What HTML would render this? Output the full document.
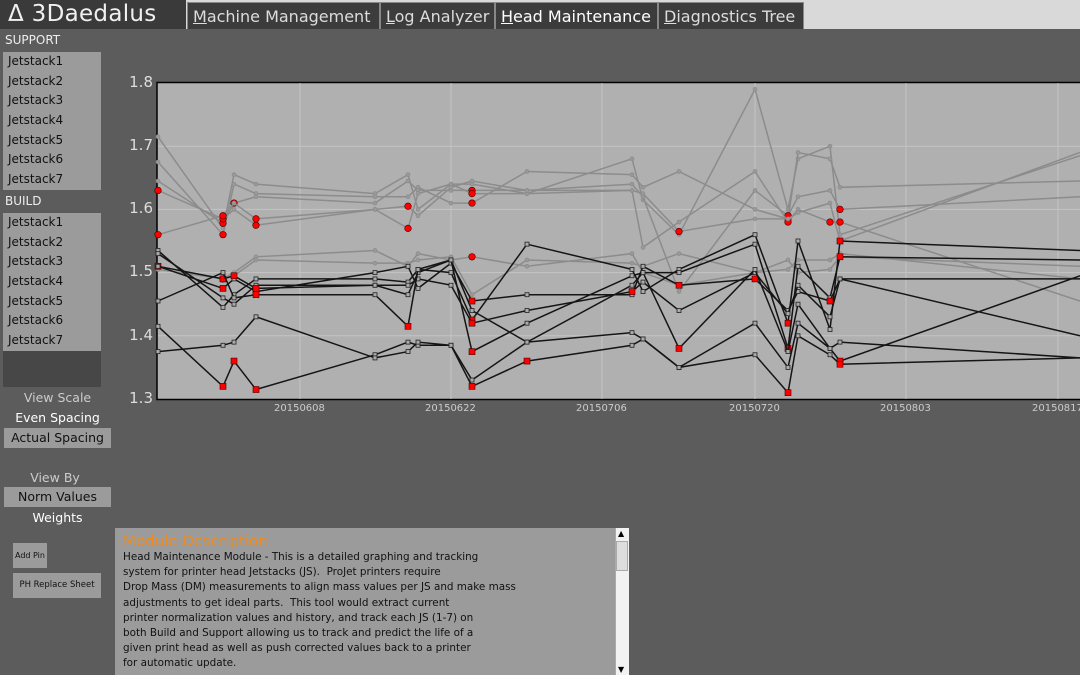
<!DOCTYPE html>
<html><head><meta charset="utf-8"><style>
*{margin:0;padding:0;box-sizing:border-box}
body{width:1080px;height:675px;overflow:hidden;background:#5c5c5c;font-family:"DejaVu Sans","Liberation Sans",sans-serif;position:relative;color:#fff}
.top{position:absolute;left:0;top:0;width:1080px;height:29px;background:#d9d9d9}
.logo{position:absolute;left:0;top:0;width:186px;height:29px;background:#3a3a3a;color:#f0f0f0;font-size:23px;line-height:29px;padding-left:8px;letter-spacing:0.3px}
.tab{position:absolute;top:2px;height:27px;background:#3c3c3c;color:#ddd;font-size:16px;line-height:27px;padding-left:5px;border:1px solid #888;border-bottom:none;white-space:nowrap;overflow:hidden}
.abs{position:absolute;white-space:nowrap}
.hdr{font-size:12px;color:#eee}
.list{background:#9b9b9b;color:#111;font-size:12px}
.list div{height:19.7px;line-height:19.7px;padding-left:5px}
.lbl{font-size:12.5px;text-align:center;width:115px}
.btn{background:#9b9b9b;color:#111;font-size:12.5px;text-align:center}
.desc{left:115px;top:528px;width:500px;height:147px;background:#9b9b9b;color:#111;font-size:10.4px;line-height:15.2px;padding:4px 8px}
.desc h3{color:#f08a1c;font-weight:normal;font-size:15px;line-height:18px}
.tick{position:absolute;font-size:10px;color:#ccc}
.yt{position:absolute;font-size:15px;color:#ddd;width:40px;text-align:right}
</style></head><body>
<svg class="abs" id="ch" style="left:0;top:0" width="1080" height="675"></svg>
<div class="top"></div>
<div class="logo">Δ 3Daedalus</div>
<div class="tab" style="left:187px;width:193px"><u>M</u>achine Management</div>
<div class="tab" style="left:380px;width:115px"><u>L</u>og Analyzer</div>
<div class="tab" style="left:495px;width:163px;color:#fff"><u>H</u>ead Maintenance</div>
<div class="tab" style="left:658px;width:146px"><u>D</u>iagnostics Tree</div>

<div class="abs hdr" style="left:5px;top:33px">SUPPORT</div>
<div class="abs list" style="left:3px;top:52px;width:98px;height:138px">
<div>Jetstack1</div><div>Jetstack2</div><div>Jetstack3</div><div>Jetstack4</div><div>Jetstack5</div><div>Jetstack6</div><div>Jetstack7</div></div>
<div class="abs hdr" style="left:5px;top:194px">BUILD</div>
<div class="abs list" style="left:3px;top:213px;width:98px;height:138px">
<div>Jetstack1</div><div>Jetstack2</div><div>Jetstack3</div><div>Jetstack4</div><div>Jetstack5</div><div>Jetstack6</div><div>Jetstack7</div></div>
<div class="abs" style="left:3px;top:351px;width:98px;height:36px;background:#474747"></div>

<div class="abs lbl" style="left:0;top:390px;color:#ccc">View Scale</div>
<div class="abs lbl" style="left:0;top:410px">Even Spacing</div>
<div class="abs btn" style="left:4px;top:428px;width:107px;height:20px;line-height:20px">Actual Spacing</div>
<div class="abs lbl" style="left:0;top:470px;color:#ccc;width:110px">View By</div>
<div class="abs btn" style="left:4px;top:487px;width:107px;height:20px;line-height:20px">Norm Values</div>
<div class="abs lbl" style="left:0;top:510px">Weights</div>
<div class="abs btn" style="left:13px;top:543px;width:34px;height:25px;line-height:25px;font-size:8px">Add Pin</div>
<div class="abs btn" style="left:13px;top:573px;width:88px;height:25px;line-height:25px;font-size:8.5px">PH Replace Sheet</div>

<div class="abs desc"><h3>Module Description</h3>
Head Maintenance Module - This is a detailed graphing and tracking<br>system for printer head Jetstacks (JS).&nbsp; ProJet printers require<br>Drop Mass (DM) measurements to align mass values per JS and make mass<br>adjustments to get ideal parts.&nbsp; This tool would extract current<br>printer normalization values and history, and track each JS (1-7) on<br>both Build and Support allowing us to track and predict the life of a<br>given print head as well as push corrected values back to a printer<br>for automatic update.</div>
<div class="abs" style="left:615px;top:528px;width:14px;height:147px;background:#f2f2f2;border-left:1px solid #aaa"></div>
<div class="abs" style="left:616px;top:541px;width:12px;height:30px;background:#ddd;border:1px solid #aaa"></div>
<div class="abs" style="left:618px;top:529px;font-size:8px;color:#000">▲</div>
<div class="abs" style="left:618px;top:665px;font-size:8px;color:#000">▼</div>

<div class="yt" style="left:113px;top:73px">1.8</div>
<div class="yt" style="left:113px;top:136px">1.7</div>
<div class="yt" style="left:113px;top:199px">1.6</div>
<div class="yt" style="left:113px;top:262px">1.5</div>
<div class="yt" style="left:113px;top:326px">1.4</div>
<div class="yt" style="left:113px;top:389px">1.3</div>
<div class="tick" style="left:274px;top:403px">20150608</div>
<div class="tick" style="left:425px;top:403px">20150622</div>
<div class="tick" style="left:576px;top:403px">20150706</div>
<div class="tick" style="left:729px;top:403px">20150720</div>
<div class="tick" style="left:880px;top:403px">20150803</div>
<div class="tick" style="left:1032px;top:403px">20150817</div>

<script>
var svg=document.getElementById('ch'),NS='http://www.w3.org/2000/svg';
function el(n,a){var e=document.createElementNS(NS,n);for(var k in a)e.setAttribute(k,a[k]);svg.appendChild(e);return e;}
el('rect',{x:157,y:82.5,width:930,height:317,fill:'#b0b0b0',stroke:'#000','stroke-width':1.5});
[300,451,602,755,906,1058].forEach(function(x){el('line',{x1:x,y1:83,x2:x,y2:399,stroke:'#c4c4c4','stroke-width':1});});
[1.7,1.6,1.5,1.4].forEach(function(v){var y=83+(1.8-v)*632;el('line',{x1:158,y1:y,x2:1080,y2:y,stroke:'#c4c4c4','stroke-width':1});});
var X=[158,223,234,256,375,408,418,451,472,527,632,643,679,755,788,798,830,840,1080];
var G=[
"1.715 1.57 1.655 1.64 1.625 1.655 1.60 1.64 1.64 1.625 1.68 1.615 1.56 1.79 1.60 1.68 1.70 1.56 1.685",
"1.675 1.56r 1.64 1.625 1.62 1.62 1.635 1.61 1.61r 1.66 1.655 1.635 1.66 1.60 1.585r 1.69 1.68 1.635 1.645",
"1.645 1.578r 1.61r 1.62 1.61 1.645 1.63 1.63 1.63r 1.63 1.64 1.62 1.47 1.63 1.59r 1.62 1.63 1.60r 1.62",
"1.63r 1.585r 1.60 1.575r 1.60 1.57r 1.625 1.64 1.625r 1.625 1.63 1.54 1.58 1.66 1.58r 1.60 1.58r 1.58r 1.455",
"1.56r 1.59r 1.61 1.585r 1.60 1.605r 1.59 1.635 1.645 1.63 1.63 1.625 1.565r 1.585 1.585 1.595 1.61 1.55 1.69",
"1.51 1.49r 1.50 1.525 1.535 1.51 1.53 1.52 1.525r 1.51 1.53 1.50 1.48 1.50 1.505 1.52 1.52 1.53 1.49",
"1.505 1.49 1.495 1.52 1.515 1.515 1.52 1.525 1.465 1.52 1.515 1.51 1.53 1.50 1.52 1.50 1.505 1.525 1.51"];
var B=[
"1.535 1.445 1.465 1.49 1.49 1.485 1.505 1.50 1.425r 1.545 1.505 1.47 1.505 1.56 1.42r 1.55 1.41 1.55r 1.535",
"1.53 1.46 1.45 1.48 1.48 1.465 1.50 1.52 1.44 1.39 1.48 1.50 1.50 1.545 1.38r 1.51 1.46 1.525r 1.52",
"1.51r 1.475r 1.49 1.47r 1.50 1.51 1.475 1.515 1.455r 1.465 1.465 1.51 1.48r 1.49r 1.44 1.47 1.455r 1.49 1.49",
"1.51 1.49r 1.495r 1.475r 1.48 1.48 1.49 1.48 1.42r 1.44 1.47r 1.485 1.44 1.50 1.435 1.48 1.43 1.49 1.40",
"1.455 1.50 1.46 1.465r 1.465 1.415r 1.505 1.52 1.375r 1.42 1.495 1.50 1.38r 1.505 1.375 1.45 1.38 1.36r 1.495",
"1.415 1.32r 1.36r 1.315r 1.37 1.39 1.385 1.385 1.33 1.39 1.405 1.395 1.35 1.42 1.35 1.42 1.38 1.39 1.365",
"1.375 1.385 1.39 1.43 1.365 1.375 1.39 1.385 1.32r 1.36r 1.385 1.395 1.35 1.37 1.31r 1.40 1.37 1.355r 1.365"];
function draw(arr,col,sq){arr.forEach(function(s){var v=s.split(' '),pts=[],mk=[];
v.forEach(function(t,i){var r=t.indexOf('r')>=0,val=parseFloat(t),y=83+(1.8-val)*632;pts.push(X[i]+','+y.toFixed(1));mk.push([X[i],y,r]);});
el('polyline',{points:pts.join(' '),fill:'none',stroke:col,'stroke-width':1.5});
mk.forEach(function(m){if(m[0]>=1078)return;if(m[2]){if(sq)el('rect',{x:m[0]-3,y:m[1]-3,width:6,height:6,fill:'#f00',stroke:'#400','stroke-width':0.6});else el('circle',{cx:m[0],cy:m[1],r:3.3,fill:'#f00',stroke:'#400','stroke-width':0.6});}
else{if(sq)el('rect',{x:m[0]-2,y:m[1]-2,width:4,height:4,fill:'#aaa',stroke:'#222','stroke-width':0.8});else el('circle',{cx:m[0],cy:m[1],r:2,fill:'#999',stroke:'#888','stroke-width':0.6});}});});}
draw(G,'#8c8c8c',false);draw(B,'#151515',true);
</script>
</body></html>
